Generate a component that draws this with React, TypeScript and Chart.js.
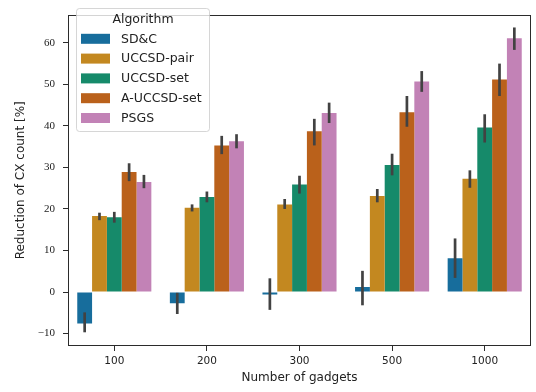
import React, { useEffect, useRef } from "react";
import { Chart, registerables } from "chart.js";

Chart.register(...registerables);

const categories = ["100", "200", "300", "500", "1000"];
const algorithms = ["SD&C", "UCCSD-pair", "UCCSD-set", "A-UCCSD-set", "PSGS"];
const colors = ["#176d9c", "#c38820", "#168a6a", "#ba611b", "#c282b6"];

// mean reduction per algorithm, one entry per gadget count
const sdcMean = [-7.6, -2.7, -0.6, 1.2, 8.1];
const pairMean = [18.3, 20.3, 21.1, 23.1, 27.3];
const setMean = [18.0, 22.9, 25.9, 30.6, 39.6];
const adaptMean = [28.9, 35.3, 38.7, 43.3, 51.2];
const psgsMean = [26.5, 36.3, 43.1, 50.7, 61.1];

// confidence interval bounds
const sdcLow = [-9.7, -5.3, -4.3, -3.2, 3.4];
const sdcHigh = [-4.9, -0.2, 3.3, 5.1, 12.9];
const pairLow = [17.3, 19.4, 20.0, 21.6, 25.1];
const pairHigh = [19.1, 21.1, 22.4, 24.8, 29.3];
const setLow = [16.7, 21.6, 23.7, 28.1, 36.0];
const setHigh = [19.3, 24.2, 28.0, 33.3, 42.8];
const adaptLow = [26.7, 33.2, 35.3, 39.8, 47.2];
const adaptHigh = [31.0, 37.6, 41.7, 47.2, 55.0];
const psgsLow = [25.0, 34.6, 40.7, 48.2, 58.3];
const psgsHigh = [28.2, 38.0, 45.6, 53.2, 63.7];

const yTicks = [-10, 0, 10, 20, 30, 40, 50, 60];

const means = [sdcMean, pairMean, setMean, adaptMean, psgsMean];
const lows = [sdcLow, pairLow, setLow, adaptLow, psgsLow];
const highs = [sdcHigh, pairHigh, setHigh, adaptHigh, psgsHigh];

const SANS = "'DejaVu Sans', sans-serif";
const SERIF = "'Liberation Serif', serif";

const errorBarPlugin = {
  id: "errorBars",
  afterDatasetsDraw(chart: any) {
    const ctx = chart.ctx;
    const y = chart.scales.y;
    ctx.save();
    ctx.strokeStyle = "#424242";
    ctx.lineWidth = 2.7;
    ctx.lineCap = "butt";
    chart.data.datasets.forEach((_: any, i: number) => {
      const meta = chart.getDatasetMeta(i);
      meta.data.forEach((el: any, j: number) => {
        ctx.beginPath();
        ctx.moveTo(el.x, y.getPixelForValue(lows[i][j]));
        ctx.lineTo(el.x, y.getPixelForValue(highs[i][j]));
        ctx.stroke();
      });
    });
    ctx.restore();
  },
};

const framePlugin = {
  id: "frameAndLegend",
  afterDraw(chart: any) {
    const ctx = chart.ctx;
    const a = chart.chartArea;
    ctx.save();
    ctx.strokeStyle = "#2b2b2b";
    ctx.lineWidth = 1;
    ctx.strokeRect(Math.round(a.left) + 0.5, Math.round(a.top) + 0.5, Math.round(a.right - a.left) - 1, Math.round(a.bottom - a.top) - 1);

    // legend box
    const lx = 76.5, ly = 8.5, lw = 133, lh = 123;
    ctx.beginPath();
    ctx.roundRect(lx, ly, lw, lh, 3);
    ctx.fillStyle = "rgba(255,255,255,0.8)";
    ctx.fill();
    ctx.strokeStyle = "rgba(204,204,204,0.8)";
    ctx.stroke();

    ctx.fillStyle = "#222";
    ctx.font = `12.5px ${SANS}`;
    ctx.textAlign = "center";
    ctx.textBaseline = "middle";
    ctx.fillText("Algorithm", lx + lw / 2, 20);

    ctx.textAlign = "left";
    chart.data.datasets.forEach((ds: any, i: number) => {
      const cy = 38.8 + i * 19.8;
      ctx.fillStyle = ds.backgroundColor;
      ctx.fillRect(81, cy - 5, 29, 10);
      ctx.fillStyle = "#222";
      ctx.fillText(ds.label, 121, cy + 0.5);
    });
    ctx.restore();
  },
};

export default function App() {
  const ref = useRef<HTMLCanvasElement>(null);

  useEffect(() => {
    if (!ref.current) return;
    const chart = new Chart(ref.current, {
      type: "bar",
      data: {
        labels: categories,
        datasets: algorithms.map((name, i) => ({
          label: name,
          data: means[i],
          backgroundColor: colors[i],
          borderWidth: 0,
          categoryPercentage: 0.8,
          barPercentage: 1.0,
        })),
      },
      options: {
        responsive: false,
        animation: false,
        layout: { padding: { top: 1, right: 5, left: 0, bottom: 0 } },
        plugins: {
          legend: { display: false },
          tooltip: { enabled: false },
        },
        scales: {
          x: {
            afterFit(scale: any) {
              scale.height = 46;
            },
            grid: {
              offset: false,
              drawOnChartArea: false,
              drawTicks: true,
              tickLength: 5,
              color: "#2b2b2b",
            },
            border: { display: false },
            ticks: {
              color: "#222",
              font: { family: SANS, size: 10.5 },
              padding: 4,
              maxRotation: 0,
            },
            title: {
              display: true,
              text: "Number of gadgets",
              color: "#222",
              font: { family: SANS, size: 12 },
              padding: { top: 0, bottom: 7 },
            },
          },
          y: {
            min: -13,
            max: 66.8,
            afterFit(scale: any) {
              scale.width = 68;
            },
            afterBuildTicks(scale: any) {
              scale.ticks = yTicks.map((v) => ({ value: v }));
            },
            grid: {
              drawOnChartArea: false,
              drawTicks: true,
              tickLength: 5,
              color: "#2b2b2b",
            },
            border: { display: false },
            ticks: {
              color: "#222",
              font: { family: SERIF, size: 11 },
              padding: 8,
              callback: (v: any) => (v < 0 ? "\u2212" + Math.abs(v) : String(v)),
            },
            title: {
              display: true,
              text: "Reduction of CX count [%]",
              color: "#222",
              font: { family: SANS, size: 12 },
              padding: { top: 14, bottom: 0 },
            },
          },
        },
      },
      plugins: [errorBarPlugin, framePlugin],
    });
    return () => chart.destroy();
  }, []);

  return (
    <div style={{ position: "fixed", left: 0, top: 0, width: 536, height: 392, background: "#fff" }}>
      <canvas ref={ref} width={536} height={392} />
    </div>
  );
}
